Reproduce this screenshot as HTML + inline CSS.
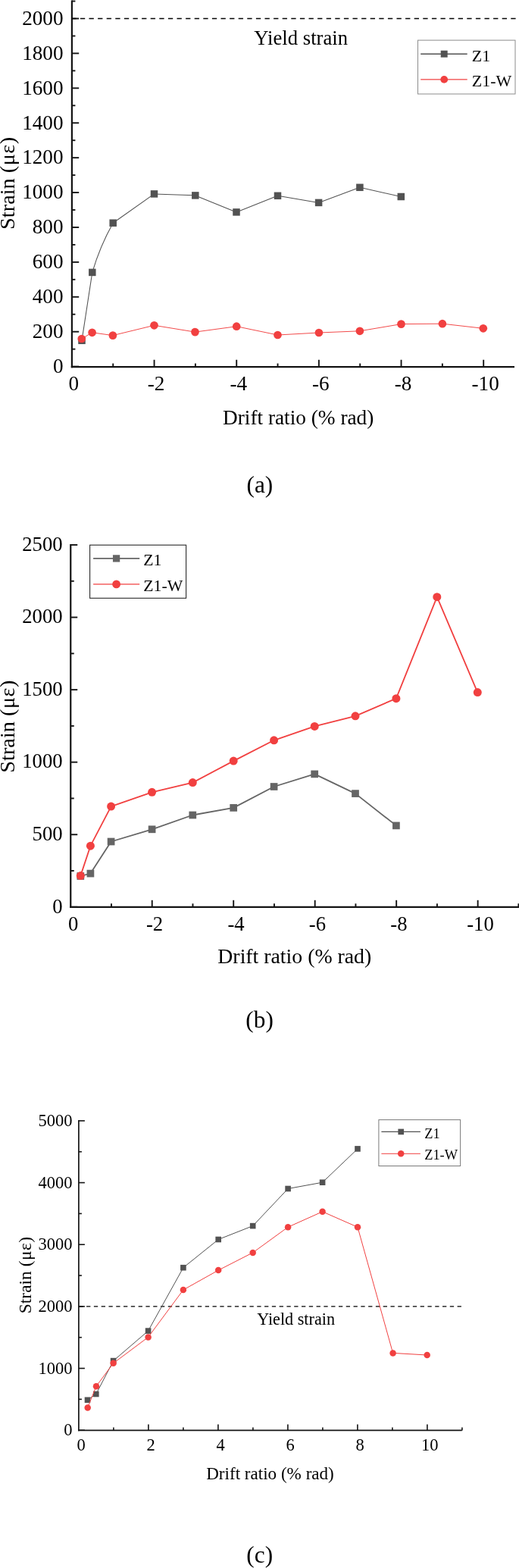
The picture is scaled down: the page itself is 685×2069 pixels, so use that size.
<!DOCTYPE html>
<html lang="en"><head><meta charset="utf-8"><title>Strain vs drift ratio</title>
<style>
html,body{margin:0;padding:0;background:#fff}
svg{display:block}
text{font-family:"Liberation Serif","Times New Roman",serif;fill:#000}
</style></head><body>
<svg width="685" height="2069" viewBox="0 0 685 2069">
<rect width="685" height="2069" fill="#fff"/>
<line x1="94.9" y1="0.6" x2="94.9" y2="485.15" stroke="#141414" stroke-width="2.2" />
<line x1="93.8" y1="484.05" x2="679" y2="484.05" stroke="#141414" stroke-width="2.2" />
<line x1="94.9" y1="483.6" x2="104.2" y2="483.6" stroke="#141414" stroke-width="1.9" />
<line x1="94.9" y1="437.69" x2="104.2" y2="437.69" stroke="#141414" stroke-width="1.9" />
<line x1="94.9" y1="391.78" x2="104.2" y2="391.78" stroke="#141414" stroke-width="1.9" />
<line x1="94.9" y1="345.87" x2="104.2" y2="345.87" stroke="#141414" stroke-width="1.9" />
<line x1="94.9" y1="299.96" x2="104.2" y2="299.96" stroke="#141414" stroke-width="1.9" />
<line x1="94.9" y1="254.05" x2="104.2" y2="254.05" stroke="#141414" stroke-width="1.9" />
<line x1="94.9" y1="208.14" x2="104.2" y2="208.14" stroke="#141414" stroke-width="1.9" />
<line x1="94.9" y1="162.23" x2="104.2" y2="162.23" stroke="#141414" stroke-width="1.9" />
<line x1="94.9" y1="116.32" x2="104.2" y2="116.32" stroke="#141414" stroke-width="1.9" />
<line x1="94.9" y1="70.41" x2="104.2" y2="70.41" stroke="#141414" stroke-width="1.9" />
<line x1="94.9" y1="24.5" x2="104.2" y2="24.5" stroke="#141414" stroke-width="1.9" />
<line x1="94.9" y1="460.65" x2="99.4" y2="460.65" stroke="#141414" stroke-width="1.9" />
<line x1="94.9" y1="414.74" x2="99.4" y2="414.74" stroke="#141414" stroke-width="1.9" />
<line x1="94.9" y1="368.83" x2="99.4" y2="368.83" stroke="#141414" stroke-width="1.9" />
<line x1="94.9" y1="322.92" x2="99.4" y2="322.92" stroke="#141414" stroke-width="1.9" />
<line x1="94.9" y1="277" x2="99.4" y2="277" stroke="#141414" stroke-width="1.9" />
<line x1="94.9" y1="231.1" x2="99.4" y2="231.1" stroke="#141414" stroke-width="1.9" />
<line x1="94.9" y1="185.19" x2="99.4" y2="185.19" stroke="#141414" stroke-width="1.9" />
<line x1="94.9" y1="139.28" x2="99.4" y2="139.28" stroke="#141414" stroke-width="1.9" />
<line x1="94.9" y1="93.37" x2="99.4" y2="93.37" stroke="#141414" stroke-width="1.9" />
<line x1="94.9" y1="47.46" x2="99.4" y2="47.46" stroke="#141414" stroke-width="1.9" />
<line x1="94.9" y1="1.55" x2="99.4" y2="1.55" stroke="#141414" stroke-width="1.9" />
<line x1="203.56" y1="484.05" x2="203.56" y2="474.75" stroke="#141414" stroke-width="1.9" />
<line x1="312.22" y1="484.05" x2="312.22" y2="474.75" stroke="#141414" stroke-width="1.9" />
<line x1="420.88" y1="484.05" x2="420.88" y2="474.75" stroke="#141414" stroke-width="1.9" />
<line x1="529.54" y1="484.05" x2="529.54" y2="474.75" stroke="#141414" stroke-width="1.9" />
<line x1="638.2" y1="484.05" x2="638.2" y2="474.75" stroke="#141414" stroke-width="1.9" />
<line x1="149.23" y1="484.05" x2="149.23" y2="479.55" stroke="#141414" stroke-width="1.9" />
<line x1="257.89" y1="484.05" x2="257.89" y2="479.55" stroke="#141414" stroke-width="1.9" />
<line x1="366.55" y1="484.05" x2="366.55" y2="479.55" stroke="#141414" stroke-width="1.9" />
<line x1="475.21" y1="484.05" x2="475.21" y2="479.55" stroke="#141414" stroke-width="1.9" />
<line x1="583.87" y1="484.05" x2="583.87" y2="479.55" stroke="#141414" stroke-width="1.9" />
<line x1="94.3" y1="24.5" x2="681" y2="24.5" stroke="#000" stroke-width="1.6" stroke-dasharray="6.3 5.3"/>
<text x="83.5" y="491.9" font-size="27.2" text-anchor="end" >0</text>
<text x="83.5" y="445.99" font-size="27.2" text-anchor="end" >200</text>
<text x="83.5" y="400.08" font-size="27.2" text-anchor="end" >400</text>
<text x="83.5" y="354.17" font-size="27.2" text-anchor="end" >600</text>
<text x="83.5" y="308.26" font-size="27.2" text-anchor="end" >800</text>
<text x="83.5" y="262.35" font-size="27.2" text-anchor="end" >1000</text>
<text x="83.5" y="216.44" font-size="27.2" text-anchor="end" >1200</text>
<text x="83.5" y="170.53" font-size="27.2" text-anchor="end" >1400</text>
<text x="83.5" y="124.62" font-size="27.2" text-anchor="end" >1600</text>
<text x="83.5" y="78.71" font-size="27.2" text-anchor="end" >1800</text>
<text x="83.5" y="32.8" font-size="27.2" text-anchor="end" >2000</text>
<text x="97.4" y="514.5" font-size="27.2" text-anchor="middle" >0</text>
<text x="206.06" y="514.5" font-size="27.2" text-anchor="middle" >-2</text>
<text x="314.72" y="514.5" font-size="27.2" text-anchor="middle" >-4</text>
<text x="423.38" y="514.5" font-size="27.2" text-anchor="middle" >-6</text>
<text x="532.04" y="514.5" font-size="27.2" text-anchor="middle" >-8</text>
<text x="640.7" y="514.5" font-size="27.2" text-anchor="middle" >-10</text>
<text x="393.7" y="560.1" font-size="27.3" text-anchor="middle" >Drift ratio (% rad)</text>
<text transform="translate(19.1,241.6) rotate(-90)" font-size="28.3" text-anchor="middle">Strain <tspan letter-spacing="0.5">(με)</tspan></text>
<text x="397.2" y="59.4" font-size="26.7" text-anchor="middle" >Yield strain</text>
<text x="342.9" y="649.7" font-size="31.3" text-anchor="middle" >(a)</text>
<path d="M108,449.3 L121.8,359.4 Q131.8,325.2 149.2,294.2 L203.5,255.9 L257.8,257.9 L312,279.9 L366.5,258.3 L420.6,267.4 L474.9,247.3 L529.3,259.5" fill="none" stroke="#525252" stroke-width="1.05" stroke-linejoin="round"/>
<rect x="103.25" y="444.55" width="9.5" height="9.5" fill="#525252"/>
<rect x="117.05" y="354.65" width="9.5" height="9.5" fill="#525252"/>
<rect x="144.45" y="289.45" width="9.5" height="9.5" fill="#525252"/>
<rect x="198.75" y="251.15" width="9.5" height="9.5" fill="#525252"/>
<rect x="253.05" y="253.15" width="9.5" height="9.5" fill="#525252"/>
<rect x="307.25" y="275.15" width="9.5" height="9.5" fill="#525252"/>
<rect x="361.75" y="253.55" width="9.5" height="9.5" fill="#525252"/>
<rect x="415.85" y="262.65" width="9.5" height="9.5" fill="#525252"/>
<rect x="470.15" y="242.55" width="9.5" height="9.5" fill="#525252"/>
<rect x="524.55" y="254.75" width="9.5" height="9.5" fill="#525252"/>
<polyline points="107.8,447 121.6,438.8 148.9,442.6 203.5,429.3 257.5,438.1 312.2,430.7 366.5,442 420.9,439 474.9,436.8 529.5,427.6 583.9,427.2 637.8,433.3" fill="none" stroke="#f14040" stroke-width="0.95" stroke-linejoin="round"/>
<circle cx="107.8" cy="447" r="5.35" fill="#f14040"/>
<circle cx="121.6" cy="438.8" r="5.35" fill="#f14040"/>
<circle cx="148.9" cy="442.6" r="5.35" fill="#f14040"/>
<circle cx="203.5" cy="429.3" r="5.35" fill="#f14040"/>
<circle cx="257.5" cy="438.1" r="5.35" fill="#f14040"/>
<circle cx="312.2" cy="430.7" r="5.35" fill="#f14040"/>
<circle cx="366.5" cy="442" r="5.35" fill="#f14040"/>
<circle cx="420.9" cy="439" r="5.35" fill="#f14040"/>
<circle cx="474.9" cy="436.8" r="5.35" fill="#f14040"/>
<circle cx="529.5" cy="427.6" r="5.35" fill="#f14040"/>
<circle cx="583.9" cy="427.2" r="5.35" fill="#f14040"/>
<circle cx="637.8" cy="433.3" r="5.35" fill="#f14040"/>
<rect x="551.5" y="53.1" width="128.5" height="70.9" fill="#fff" stroke="#8c8c8c" stroke-width="1"/>
<line x1="555.2" y1="71.2" x2="616.7" y2="71.2" stroke="#525252" stroke-width="1.5" />
<rect x="581.7" y="66.7" width="9" height="9" fill="#525252"/>
<line x1="555.2" y1="104.9" x2="616.7" y2="104.9" stroke="#f14040" stroke-width="1.2" />
<circle cx="586.2" cy="104.9" r="4.9" fill="#f14040"/>
<text x="622.7" y="80.9" font-size="22" text-anchor="start" >Z1</text>
<text x="622.7" y="114.4" font-size="22" text-anchor="start" >Z1-W</text>
<line x1="93.25" y1="718.05" x2="93.25" y2="1197.9" stroke="#141414" stroke-width="2.2" />
<line x1="92.15" y1="1196.8" x2="685" y2="1196.8" stroke="#141414" stroke-width="2.2" />
<line x1="93.25" y1="1196.8" x2="102.25" y2="1196.8" stroke="#141414" stroke-width="1.9" />
<line x1="93.25" y1="1101.24" x2="102.25" y2="1101.24" stroke="#141414" stroke-width="1.9" />
<line x1="93.25" y1="1005.68" x2="102.25" y2="1005.68" stroke="#141414" stroke-width="1.9" />
<line x1="93.25" y1="910.12" x2="102.25" y2="910.12" stroke="#141414" stroke-width="1.9" />
<line x1="93.25" y1="814.56" x2="102.25" y2="814.56" stroke="#141414" stroke-width="1.9" />
<line x1="93.25" y1="719" x2="102.25" y2="719" stroke="#141414" stroke-width="1.9" />
<line x1="93.25" y1="1149.02" x2="97.75" y2="1149.02" stroke="#141414" stroke-width="1.9" />
<line x1="93.25" y1="1053.46" x2="97.75" y2="1053.46" stroke="#141414" stroke-width="1.9" />
<line x1="93.25" y1="957.9" x2="97.75" y2="957.9" stroke="#141414" stroke-width="1.9" />
<line x1="93.25" y1="862.34" x2="97.75" y2="862.34" stroke="#141414" stroke-width="1.9" />
<line x1="93.25" y1="766.78" x2="97.75" y2="766.78" stroke="#141414" stroke-width="1.9" />
<line x1="200.73" y1="1196.8" x2="200.73" y2="1187.8" stroke="#141414" stroke-width="1.9" />
<line x1="308.21" y1="1196.8" x2="308.21" y2="1187.8" stroke="#141414" stroke-width="1.9" />
<line x1="415.69" y1="1196.8" x2="415.69" y2="1187.8" stroke="#141414" stroke-width="1.9" />
<line x1="523.17" y1="1196.8" x2="523.17" y2="1187.8" stroke="#141414" stroke-width="1.9" />
<line x1="630.65" y1="1196.8" x2="630.65" y2="1187.8" stroke="#141414" stroke-width="1.9" />
<line x1="146.99" y1="1196.8" x2="146.99" y2="1192.3" stroke="#141414" stroke-width="1.9" />
<line x1="254.47" y1="1196.8" x2="254.47" y2="1192.3" stroke="#141414" stroke-width="1.9" />
<line x1="361.95" y1="1196.8" x2="361.95" y2="1192.3" stroke="#141414" stroke-width="1.9" />
<line x1="469.43" y1="1196.8" x2="469.43" y2="1192.3" stroke="#141414" stroke-width="1.9" />
<line x1="576.91" y1="1196.8" x2="576.91" y2="1192.3" stroke="#141414" stroke-width="1.9" />
<line x1="684.39" y1="1196.8" x2="684.39" y2="1192.3" stroke="#141414" stroke-width="1.9" />
<text x="82.6" y="1204.6" font-size="26.7" text-anchor="end" >0</text>
<text x="82.6" y="1109.04" font-size="26.7" text-anchor="end" >500</text>
<text x="82.6" y="1013.48" font-size="26.7" text-anchor="end" >1000</text>
<text x="82.6" y="917.92" font-size="26.7" text-anchor="end" >1500</text>
<text x="82.6" y="822.36" font-size="26.7" text-anchor="end" >2000</text>
<text x="82.6" y="726.8" font-size="26.7" text-anchor="end" >2500</text>
<text x="96.55" y="1227.7" font-size="26.7" text-anchor="middle" >0</text>
<text x="204.03" y="1227.7" font-size="26.7" text-anchor="middle" >-2</text>
<text x="311.51" y="1227.7" font-size="26.7" text-anchor="middle" >-4</text>
<text x="418.99" y="1227.7" font-size="26.7" text-anchor="middle" >-6</text>
<text x="526.47" y="1227.7" font-size="26.7" text-anchor="middle" >-8</text>
<text x="633.95" y="1227.7" font-size="26.7" text-anchor="middle" >-10</text>
<text x="388.8" y="1271.4" font-size="27.8" text-anchor="middle" >Drift ratio (% rad)</text>
<text transform="translate(19.4,958.4) rotate(-90)" font-size="28.3" text-anchor="middle">Strain <tspan letter-spacing="0.5">(με)</tspan></text>
<text x="342.6" y="1356" font-size="31.3" text-anchor="middle" >(b)</text>
<polyline points="106.3,1156 119.4,1152.6 146.6,1110.5 200.6,1094.3 254.3,1075.5 308.2,1065.9 361.6,1038 415.2,1021.4 469,1047.1 522.9,1089.4" fill="none" stroke="#656565" stroke-width="1.8" stroke-linejoin="round"/>
<rect x="101.45" y="1151.15" width="9.7" height="9.7" fill="#656565"/>
<rect x="114.55" y="1147.75" width="9.7" height="9.7" fill="#656565"/>
<rect x="141.75" y="1105.65" width="9.7" height="9.7" fill="#656565"/>
<rect x="195.75" y="1089.45" width="9.7" height="9.7" fill="#656565"/>
<rect x="249.45" y="1070.65" width="9.7" height="9.7" fill="#656565"/>
<rect x="303.35" y="1061.05" width="9.7" height="9.7" fill="#656565"/>
<rect x="356.75" y="1033.15" width="9.7" height="9.7" fill="#656565"/>
<rect x="410.35" y="1016.55" width="9.7" height="9.7" fill="#656565"/>
<rect x="464.15" y="1042.25" width="9.7" height="9.7" fill="#656565"/>
<rect x="518.05" y="1084.55" width="9.7" height="9.7" fill="#656565"/>
<polyline points="106.3,1155.6 119.4,1116.2 146.6,1064.1 200.6,1045.3 254.3,1032.6 308.2,1004.1 361.6,976.8 415.2,958.4 469,944.8 522.9,921.7 576.8,787.7 630.3,913.6" fill="none" stroke="#f14040" stroke-width="1.8" stroke-linejoin="round"/>
<circle cx="106.3" cy="1155.6" r="5.5" fill="#f14040"/>
<circle cx="119.4" cy="1116.2" r="5.5" fill="#f14040"/>
<circle cx="146.6" cy="1064.1" r="5.5" fill="#f14040"/>
<circle cx="200.6" cy="1045.3" r="5.5" fill="#f14040"/>
<circle cx="254.3" cy="1032.6" r="5.5" fill="#f14040"/>
<circle cx="308.2" cy="1004.1" r="5.5" fill="#f14040"/>
<circle cx="361.6" cy="976.8" r="5.5" fill="#f14040"/>
<circle cx="415.2" cy="958.4" r="5.5" fill="#f14040"/>
<circle cx="469" cy="944.8" r="5.5" fill="#f14040"/>
<circle cx="522.9" cy="921.7" r="5.5" fill="#f14040"/>
<circle cx="576.8" cy="787.7" r="5.5" fill="#f14040"/>
<circle cx="630.3" cy="913.6" r="5.5" fill="#f14040"/>
<rect x="118.6" y="719.2" width="127" height="70.1" fill="#fff" stroke="#2a2a2a" stroke-width="1.1"/>
<line x1="123.1" y1="736.9" x2="184.2" y2="736.9" stroke="#656565" stroke-width="1.9" />
<rect x="148.95" y="732.25" width="9.3" height="9.3" fill="#656565"/>
<line x1="123.1" y1="770.9" x2="184.2" y2="770.9" stroke="#f14040" stroke-width="1.2" />
<circle cx="153.6" cy="770.9" r="5.4" fill="#f14040"/>
<text x="189.3" y="746.2" font-size="21.8" text-anchor="start" >Z1</text>
<text x="189.3" y="779.9" font-size="21.8" text-anchor="start" >Z1-W</text>
<line x1="103.9" y1="1478.1" x2="103.9" y2="1888.3" stroke="#141414" stroke-width="1.7" />
<line x1="103.05" y1="1887.45" x2="609.7" y2="1887.45" stroke="#141414" stroke-width="1.7" />
<line x1="103.9" y1="1887.2" x2="111.9" y2="1887.2" stroke="#141414" stroke-width="1.6" />
<line x1="103.9" y1="1805.54" x2="111.9" y2="1805.54" stroke="#141414" stroke-width="1.6" />
<line x1="103.9" y1="1723.88" x2="111.9" y2="1723.88" stroke="#141414" stroke-width="1.6" />
<line x1="103.9" y1="1642.22" x2="111.9" y2="1642.22" stroke="#141414" stroke-width="1.6" />
<line x1="103.9" y1="1560.56" x2="111.9" y2="1560.56" stroke="#141414" stroke-width="1.6" />
<line x1="103.9" y1="1478.9" x2="111.9" y2="1478.9" stroke="#141414" stroke-width="1.6" />
<line x1="103.9" y1="1846.37" x2="107.9" y2="1846.37" stroke="#141414" stroke-width="1.6" />
<line x1="103.9" y1="1764.71" x2="107.9" y2="1764.71" stroke="#141414" stroke-width="1.6" />
<line x1="103.9" y1="1683.05" x2="107.9" y2="1683.05" stroke="#141414" stroke-width="1.6" />
<line x1="103.9" y1="1601.39" x2="107.9" y2="1601.39" stroke="#141414" stroke-width="1.6" />
<line x1="103.9" y1="1519.73" x2="107.9" y2="1519.73" stroke="#141414" stroke-width="1.6" />
<line x1="195.9" y1="1887.45" x2="195.9" y2="1879.45" stroke="#141414" stroke-width="1.6" />
<line x1="287.9" y1="1887.45" x2="287.9" y2="1879.45" stroke="#141414" stroke-width="1.6" />
<line x1="379.9" y1="1887.45" x2="379.9" y2="1879.45" stroke="#141414" stroke-width="1.6" />
<line x1="471.9" y1="1887.45" x2="471.9" y2="1879.45" stroke="#141414" stroke-width="1.6" />
<line x1="563.9" y1="1887.45" x2="563.9" y2="1879.45" stroke="#141414" stroke-width="1.6" />
<line x1="149.9" y1="1887.45" x2="149.9" y2="1883.45" stroke="#141414" stroke-width="1.6" />
<line x1="241.9" y1="1887.45" x2="241.9" y2="1883.45" stroke="#141414" stroke-width="1.6" />
<line x1="333.9" y1="1887.45" x2="333.9" y2="1883.45" stroke="#141414" stroke-width="1.6" />
<line x1="425.9" y1="1887.45" x2="425.9" y2="1883.45" stroke="#141414" stroke-width="1.6" />
<line x1="517.9" y1="1887.45" x2="517.9" y2="1883.45" stroke="#141414" stroke-width="1.6" />
<line x1="609.9" y1="1887.45" x2="609.9" y2="1883.45" stroke="#141414" stroke-width="1.6" />
<line x1="104.3" y1="1723.88" x2="609.3" y2="1723.88" stroke="#000" stroke-width="1.35" stroke-dasharray="5.3 4.49"/>
<text x="95.5" y="1894.4" font-size="22.5" text-anchor="end" >0</text>
<text x="95.5" y="1812.74" font-size="22.5" text-anchor="end" >1000</text>
<text x="95.5" y="1731.08" font-size="22.5" text-anchor="end" >2000</text>
<text x="95.5" y="1649.42" font-size="22.5" text-anchor="end" >3000</text>
<text x="95.5" y="1567.76" font-size="22.5" text-anchor="end" >4000</text>
<text x="95.5" y="1486.1" font-size="22.5" text-anchor="end" >5000</text>
<text x="107.2" y="1914.1" font-size="22.5" text-anchor="middle" >0</text>
<text x="199.2" y="1914.1" font-size="22.5" text-anchor="middle" >2</text>
<text x="291.2" y="1914.1" font-size="22.5" text-anchor="middle" >4</text>
<text x="383.2" y="1914.1" font-size="22.5" text-anchor="middle" >6</text>
<text x="475.2" y="1914.1" font-size="22.5" text-anchor="middle" >8</text>
<text x="567.2" y="1914.1" font-size="22.5" text-anchor="middle" >10</text>
<text x="356.5" y="1951.9" font-size="23.1" text-anchor="middle" >Drift ratio (% rad)</text>
<text transform="translate(40.6,1682.4) rotate(-90)" font-size="23.5" text-anchor="middle">Strain <tspan letter-spacing="0.4">(με)</tspan></text>
<text x="390.6" y="1748.3" font-size="22.2" text-anchor="middle" >Yield strain</text>
<text x="342.7" y="2062.2" font-size="31.3" text-anchor="middle" >(c)</text>
<polyline points="115.5,1847.3 126.8,1839.5 149.6,1795.6 195.6,1756.1 241.9,1672.7 288.2,1635.5 333.7,1617.6 380.1,1568.5 425.6,1560.2 472,1515.9" fill="none" stroke="#525252" stroke-width="1.0" stroke-linejoin="round"/>
<rect x="111.7" y="1843.5" width="7.6" height="7.6" fill="#525252"/>
<rect x="123" y="1835.7" width="7.6" height="7.6" fill="#525252"/>
<rect x="145.8" y="1791.8" width="7.6" height="7.6" fill="#525252"/>
<rect x="191.8" y="1752.3" width="7.6" height="7.6" fill="#525252"/>
<rect x="238.1" y="1668.9" width="7.6" height="7.6" fill="#525252"/>
<rect x="284.4" y="1631.7" width="7.6" height="7.6" fill="#525252"/>
<rect x="329.9" y="1613.8" width="7.6" height="7.6" fill="#525252"/>
<rect x="376.3" y="1564.7" width="7.6" height="7.6" fill="#525252"/>
<rect x="421.8" y="1556.4" width="7.6" height="7.6" fill="#525252"/>
<rect x="468.2" y="1512.1" width="7.6" height="7.6" fill="#525252"/>
<polyline points="115.7,1857.4 127,1829.2 149.6,1798.8 195.6,1764.4 241.9,1702 288.2,1676.1 333.7,1652.9 380.1,1619.2 425.6,1598.8 472,1619.2 518.6,1785.4 563.7,1788" fill="none" stroke="#f14040" stroke-width="1.0" stroke-linejoin="round"/>
<circle cx="115.7" cy="1857.4" r="4.25" fill="#f14040"/>
<circle cx="127" cy="1829.2" r="4.25" fill="#f14040"/>
<circle cx="149.6" cy="1798.8" r="4.25" fill="#f14040"/>
<circle cx="195.6" cy="1764.4" r="4.25" fill="#f14040"/>
<circle cx="241.9" cy="1702" r="4.25" fill="#f14040"/>
<circle cx="288.2" cy="1676.1" r="4.25" fill="#f14040"/>
<circle cx="333.7" cy="1652.9" r="4.25" fill="#f14040"/>
<circle cx="380.1" cy="1619.2" r="4.25" fill="#f14040"/>
<circle cx="425.6" cy="1598.8" r="4.25" fill="#f14040"/>
<circle cx="472" cy="1619.2" r="4.25" fill="#f14040"/>
<circle cx="518.6" cy="1785.4" r="4.25" fill="#f14040"/>
<circle cx="563.7" cy="1788" r="4.25" fill="#f14040"/>
<rect x="499.9" y="1477.6" width="107.7" height="60.9" fill="#fff" stroke="#7a7a7a" stroke-width="1"/>
<line x1="503.4" y1="1493.4" x2="554.9" y2="1493.4" stroke="#525252" stroke-width="1.2" />
<rect x="525.4" y="1489.6" width="7.6" height="7.6" fill="#525252"/>
<line x1="503.4" y1="1522.3" x2="554.9" y2="1522.3" stroke="#f14040" stroke-width="1.0" />
<circle cx="529.2" cy="1522.3" r="4.25" fill="#f14040"/>
<text x="560.2" y="1501.5" font-size="18.4" text-anchor="start" >Z1</text>
<text x="560.2" y="1529.8" font-size="18.4" text-anchor="start" >Z1-W</text>
</svg>
</body></html>
